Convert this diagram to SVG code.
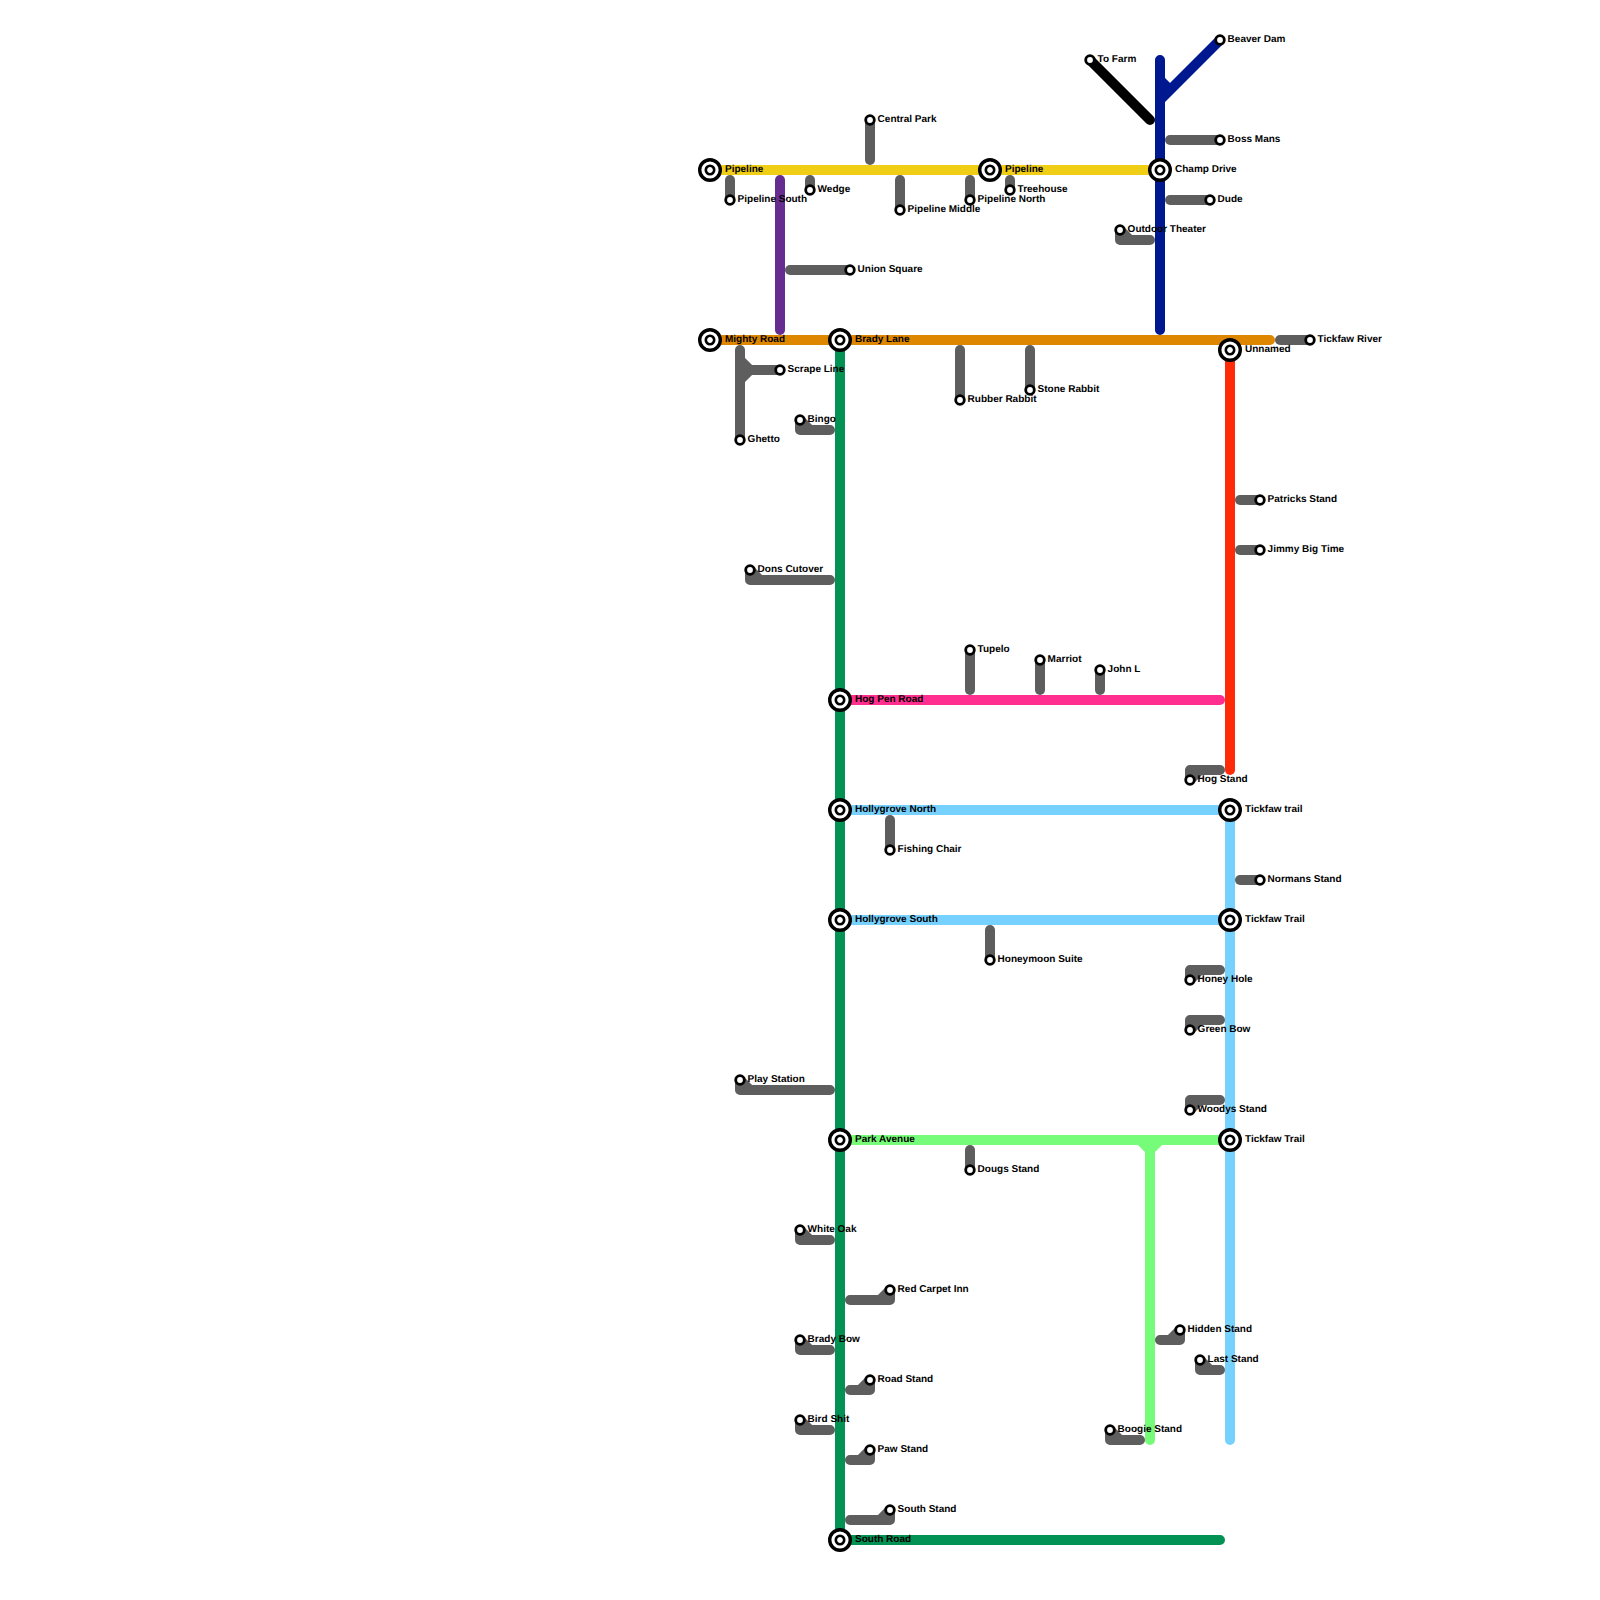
<svg xmlns="http://www.w3.org/2000/svg" width="1600" height="1600" viewBox="0 0 1600 1600">
<style>
text{font-family:"Liberation Sans",Arial,sans-serif;font-size:10px;font-weight:bold;fill:#000;text-rendering:geometricPrecision;transform:translateY(-1px)}
use[href="#stop"] + text{transform:translate(-.4px,-1px)}
#connectors path{fill:none;stroke-width:10;stroke-linecap:round;stroke-linejoin:round}
#connectors .g{stroke:#5e5e5e}
.o{fill:#fff;stroke:#000;stroke-width:3.4}
.i{fill:#fff;stroke:#000;stroke-width:2.6}
.s{fill:#fff;stroke:#000;stroke-width:2.8}
</style>
<defs>
<g id="hub"><circle class="o" r="10.3"/><circle class="i" r="4.2"/></g>
<circle id="stop" class="s" r="4.3"/>
</defs>
<rect width="1600" height="1600" fill="#fff"/>
<g id="connectors">
<path stroke="#f0ce15" d="M710 170H1160" stroke-linecap="butt"/>
<path stroke="#df8600" d="M710 340H1270"/>
<path stroke="#662c90" d="M780 180V330"/>
<path stroke="#049154" d="M840 340V1540H1220"/>
<path stroke="#ff2e8f" d="M840 700H1220"/>
<path stroke="#ff2a08" d="M1230 350V770"/>
<path stroke="#76d1ff" d="M840 810H1230M840 920H1230M1230 810V1440"/>
<path stroke="#76fc78" d="M840 1140H1230M1150 1140V1440M1140 1140L1150 1150L1160 1140"/>
<path stroke="#00188f" d="M1160 60V330M1160 100L1220 40M1160 80L1170 90"/>
<path stroke="#000" d="M1090 60L1150 120"/>
<path class="g" d="M730 180V200"/>
<path class="g" d="M810 180V190"/>
<path class="g" d="M900 180V210"/>
<path class="g" d="M970 180V200"/>
<path class="g" d="M1010 180V190"/>
<path class="g" d="M870 120V160"/>
<path class="g" d="M790 270H850"/>
<path class="g" d="M1280 340H1310"/>
<path class="g" d="M740 350V440M740 370H780M740 360L750 370L740 380"/>
<path class="g" d="M800 420V430H830M800 420L810 430"/>
<path class="g" d="M960 350V400"/>
<path class="g" d="M1030 350V390"/>
<path class="g" d="M750 570V580H830M750 570L760 580"/>
<path class="g" d="M970 650V690"/>
<path class="g" d="M1040 660V690"/>
<path class="g" d="M1100 670V690"/>
<path class="g" d="M1240 500H1260"/>
<path class="g" d="M1240 550H1260"/>
<path class="g" d="M1190 780V770H1220M1190 780L1200 770"/>
<path class="g" d="M890 820V850"/>
<path class="g" d="M1240 880H1260"/>
<path class="g" d="M990 930V960"/>
<path class="g" d="M1190 980V970H1220M1190 980L1200 970"/>
<path class="g" d="M1190 1030V1020H1220M1190 1030L1200 1020"/>
<path class="g" d="M1190 1110V1100H1220M1190 1110L1200 1100"/>
<path class="g" d="M970 1150V1170"/>
<path class="g" d="M740 1080V1090H830M740 1080L750 1090"/>
<path class="g" d="M800 1230V1240H830M800 1230L810 1240"/>
<path class="g" d="M850 1300H890V1290M880 1300L890 1290"/>
<path class="g" d="M800 1340V1350H830M800 1340L810 1350"/>
<path class="g" d="M850 1390H870V1380M860 1390L870 1380"/>
<path class="g" d="M800 1420V1430H830M800 1420L810 1430"/>
<path class="g" d="M850 1460H870V1450M860 1460L870 1450"/>
<path class="g" d="M850 1520H890V1510M880 1520L890 1510"/>
<path class="g" d="M1160 1340H1180V1330M1170 1340L1180 1330"/>
<path class="g" d="M1200 1360V1370H1220M1200 1360L1210 1370"/>
<path class="g" d="M1110 1430V1440H1140M1110 1430L1120 1440"/>
<path class="g" d="M1170 140H1220"/>
<path class="g" d="M1170 200H1210"/>
<path class="g" d="M1120 230V240H1150M1120 230L1130 240"/>
</g>
<g id="n-pipeline-w"><use href="#hub" x="710" y="170"/><text x="725" y="173">Pipeline</text></g>
<g id="n-pipeline-e"><use href="#hub" x="990" y="170"/><text x="1005" y="173">Pipeline</text></g>
<g id="n-champ-drive"><use href="#hub" x="1160" y="170"/><text x="1175" y="173">Champ Drive</text></g>
<g id="n-mighty-road"><use href="#hub" x="710" y="340"/><text x="725" y="343">Mighty Road</text></g>
<g id="n-brady-lane"><use href="#hub" x="840" y="340"/><text x="855" y="343">Brady Lane</text></g>
<g id="n-unnamed"><use href="#hub" x="1230" y="350"/><text x="1245" y="353">Unnamed</text></g>
<g id="n-hog-pen-road"><use href="#hub" x="840" y="700"/><text x="855" y="703">Hog Pen Road</text></g>
<g id="n-hollygrove-north"><use href="#hub" x="840" y="810"/><text x="855" y="813">Hollygrove North</text></g>
<g id="n-tickfaw-trail-1"><use href="#hub" x="1230" y="810"/><text x="1245" y="813">Tickfaw trail</text></g>
<g id="n-hollygrove-south"><use href="#hub" x="840" y="920"/><text x="855" y="923">Hollygrove South</text></g>
<g id="n-tickfaw-trail-2"><use href="#hub" x="1230" y="920"/><text x="1245" y="923">Tickfaw Trail</text></g>
<g id="n-park-avenue"><use href="#hub" x="840" y="1140"/><text x="855" y="1143">Park Avenue</text></g>
<g id="n-tickfaw-trail-3"><use href="#hub" x="1230" y="1140"/><text x="1245" y="1143">Tickfaw Trail</text></g>
<g id="n-south-road"><use href="#hub" x="840" y="1540"/><text x="855" y="1543">South Road</text></g>
<g id="n-beaver-dam"><use href="#stop" x="1220" y="40"/><text x="1228" y="43">Beaver Dam</text></g>
<g id="n-to-farm"><use href="#stop" x="1090" y="60"/><text x="1098" y="63">To Farm</text></g>
<g id="n-central-park"><use href="#stop" x="870" y="120"/><text x="878" y="123">Central Park</text></g>
<g id="n-boss-mans"><use href="#stop" x="1220" y="140"/><text x="1228" y="143">Boss Mans</text></g>
<g id="n-wedge"><use href="#stop" x="810" y="190"/><text x="818" y="193">Wedge</text></g>
<g id="n-treehouse"><use href="#stop" x="1010" y="190"/><text x="1018" y="193">Treehouse</text></g>
<g id="n-pipeline-south"><use href="#stop" x="730" y="200"/><text x="738" y="203">Pipeline South</text></g>
<g id="n-pipeline-north"><use href="#stop" x="970" y="200"/><text x="978" y="203">Pipeline North</text></g>
<g id="n-dude"><use href="#stop" x="1210" y="200"/><text x="1218" y="203">Dude</text></g>
<g id="n-pipeline-middle"><use href="#stop" x="900" y="210"/><text x="908" y="213">Pipeline Middle</text></g>
<g id="n-outdoor-theater"><use href="#stop" x="1120" y="230"/><text x="1128" y="233">Outdoor Theater</text></g>
<g id="n-union-square"><use href="#stop" x="850" y="270"/><text x="858" y="273">Union Square</text></g>
<g id="n-tickfaw-river"><use href="#stop" x="1310" y="340"/><text x="1318" y="343">Tickfaw River</text></g>
<g id="n-scrape-line"><use href="#stop" x="780" y="370"/><text x="788" y="373">Scrape Line</text></g>
<g id="n-stone-rabbit"><use href="#stop" x="1030" y="390"/><text x="1038" y="393">Stone Rabbit</text></g>
<g id="n-rubber-rabbit"><use href="#stop" x="960" y="400"/><text x="968" y="403">Rubber Rabbit</text></g>
<g id="n-bingo"><use href="#stop" x="800" y="420"/><text x="808" y="423">Bingo</text></g>
<g id="n-ghetto"><use href="#stop" x="740" y="440"/><text x="748" y="443">Ghetto</text></g>
<g id="n-patricks-stand"><use href="#stop" x="1260" y="500"/><text x="1268" y="503">Patricks Stand</text></g>
<g id="n-jimmy-big-time"><use href="#stop" x="1260" y="550"/><text x="1268" y="553">Jimmy Big Time</text></g>
<g id="n-dons-cutover"><use href="#stop" x="750" y="570"/><text x="758" y="573">Dons Cutover</text></g>
<g id="n-tupelo"><use href="#stop" x="970" y="650"/><text x="978" y="653">Tupelo</text></g>
<g id="n-marriot"><use href="#stop" x="1040" y="660"/><text x="1048" y="663">Marriot</text></g>
<g id="n-john-l"><use href="#stop" x="1100" y="670"/><text x="1108" y="673">John L</text></g>
<g id="n-hog-stand"><use href="#stop" x="1190" y="780"/><text x="1198" y="783">Hog Stand</text></g>
<g id="n-fishing-chair"><use href="#stop" x="890" y="850"/><text x="898" y="853">Fishing Chair</text></g>
<g id="n-normans-stand"><use href="#stop" x="1260" y="880"/><text x="1268" y="883">Normans Stand</text></g>
<g id="n-honeymoon-suite"><use href="#stop" x="990" y="960"/><text x="998" y="963">Honeymoon Suite</text></g>
<g id="n-honey-hole"><use href="#stop" x="1190" y="980"/><text x="1198" y="983">Honey Hole</text></g>
<g id="n-green-bow"><use href="#stop" x="1190" y="1030"/><text x="1198" y="1033">Green Bow</text></g>
<g id="n-play-station"><use href="#stop" x="740" y="1080"/><text x="748" y="1083">Play Station</text></g>
<g id="n-woodys-stand"><use href="#stop" x="1190" y="1110"/><text x="1198" y="1113">Woodys Stand</text></g>
<g id="n-dougs-stand"><use href="#stop" x="970" y="1170"/><text x="978" y="1173">Dougs Stand</text></g>
<g id="n-white-oak"><use href="#stop" x="800" y="1230"/><text x="808" y="1233">White Oak</text></g>
<g id="n-red-carpet-inn"><use href="#stop" x="890" y="1290"/><text x="898" y="1293">Red Carpet Inn</text></g>
<g id="n-hidden-stand"><use href="#stop" x="1180" y="1330"/><text x="1188" y="1333">Hidden Stand</text></g>
<g id="n-brady-bow"><use href="#stop" x="800" y="1340"/><text x="808" y="1343">Brady Bow</text></g>
<g id="n-last-stand"><use href="#stop" x="1200" y="1360"/><text x="1208" y="1363">Last Stand</text></g>
<g id="n-road-stand"><use href="#stop" x="870" y="1380"/><text x="878" y="1383">Road Stand</text></g>
<g id="n-bird-shit"><use href="#stop" x="800" y="1420"/><text x="808" y="1423">Bird Shit</text></g>
<g id="n-boogie-stand"><use href="#stop" x="1110" y="1430"/><text x="1118" y="1433">Boogie Stand</text></g>
<g id="n-paw-stand"><use href="#stop" x="870" y="1450"/><text x="878" y="1453">Paw Stand</text></g>
<g id="n-south-stand"><use href="#stop" x="890" y="1510"/><text x="898" y="1513">South Stand</text></g>
</svg>
